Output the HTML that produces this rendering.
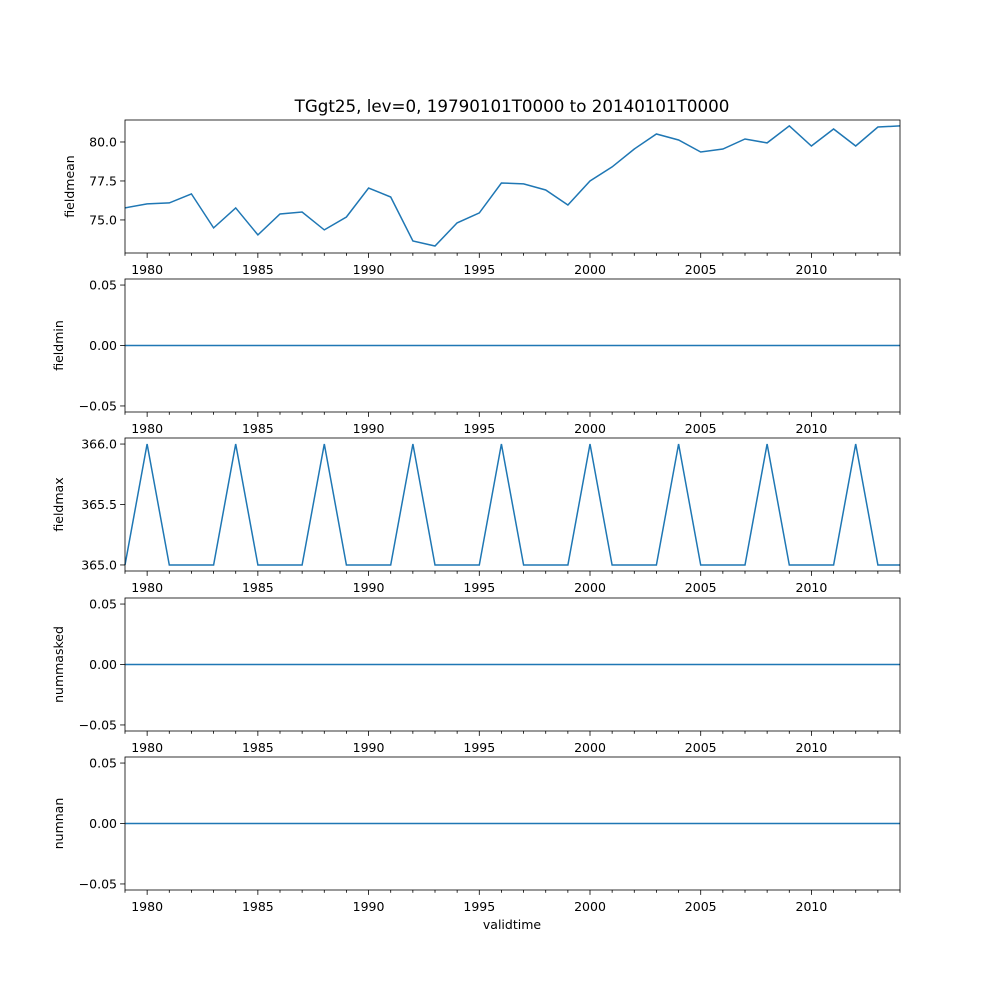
<!DOCTYPE html>
<html><head><meta charset="utf-8"><style>body{margin:0;background:#fff}svg{display:block;font-family:"DejaVu Sans","Liberation Sans",sans-serif}</style></head>
<body>
<svg id="c" width="1000" height="1000"></svg>
<script>
const years=[];for(let y=1979;y<=2014;y++)years.push(y);
const fieldmean=[75.77,76.03,76.09,76.67,74.49,75.77,74.04,75.38,75.51,74.36,75.19,77.05,76.47,73.65,73.33,74.81,75.45,77.37,77.31,76.92,75.96,77.5,78.4,79.55,80.51,80.13,79.36,79.55,80.19,79.94,81.03,79.74,80.83,79.74,80.96,81.03];
const fieldmin=years.map(()=>0);
const fieldmax=[365,366,365,365,365,366,365,365,365,366,365,365,365,366,365,365,365,366,365,365,365,366,365,365,365,366,365,365,365,366,365,365,365,366,365,365];
const nummasked=years.map(()=>0);
const numnan=years.map(()=>0);
const xTicks=[1980,1985,1990,1995,2000,2005,2010];
const panels=[
 {name:"fieldmean",vals:fieldmean,top:120,ymin:72.88,ymax:81.41,ticks:[75.0,77.5,80.0],lab:"fieldmean"},
 {name:"fieldmin",vals:fieldmin,top:279,ymin:-0.055,ymax:0.055,ticks:[-0.05,0,0.05],lab:"fieldmin"},
 {name:"fieldmax",vals:fieldmax,top:438,ymin:364.95,ymax:366.05,ticks:[365,365.5,366],lab:"fieldmax"},
 {name:"nummasked",vals:nummasked,top:598,ymin:-0.055,ymax:0.055,ticks:[-0.05,0,0.05],lab:"nummasked"},
 {name:"numnan",vals:numnan,top:757,ymin:-0.055,ymax:0.055,ticks:[-0.05,0,0.05],lab:"numnan"}];
const L=125,R=900,H=133,FS=12.5;
const svg=document.getElementById('c');const NS="http://www.w3.org/2000/svg";
function mk(t,a,p){const e=document.createElementNS(NS,t);for(const k in a)e.setAttribute(k,a[k]);(p||svg).appendChild(e);return e;}
const sx=y=>L+(y-1979)/(2014-1979)*(R-L);
const title=mk('text',{x:512,y:112,'text-anchor':'middle','font-size':16.7});title.textContent="TGgt25, lev=0, 19790101T0000 to 20140101T0000";


panels.forEach(p=>{
 const g=mk('g',{});
 
 
 const sy=v=>p.top+H-(v-p.ymin)/(p.ymax-p.ymin)*H;
 const pts=years.map((y,i)=>sx(y).toFixed(1)+','+sy(p.vals[i]).toFixed(1)).join(' ');
 const ln=mk('polyline',{points:pts,fill:'none',stroke:'#1f77b4','stroke-width':1.5},g);
 
 
 const fr=mk('rect',{x:L,y:p.top,width:R-L,height:H,fill:'none',stroke:'#000','stroke-width':0.8},g);
 
 
 years.forEach(y=>{const maj=xTicks.includes(y);mk('line',{x1:sx(y),x2:sx(y),y1:p.top+H,y2:p.top+H+(maj?4.9:2.8),stroke:'#000','stroke-width':0.8},g);});
 xTicks.forEach(y=>{const t=mk('text',{x:sx(y),y:p.top+H+21,'text-anchor':'middle','font-size':FS},g);t.textContent=y;
  
  });
 p.ticks.forEach(v=>{const yy=sy(v);mk('line',{x1:L-4.9,x2:L,y1:yy,y2:yy,stroke:'#000','stroke-width':0.8},g);
  const t=mk('text',{x:L-8,y:yy+4.5,'text-anchor':'end','font-size':FS},g);t.textContent=(Math.abs(v)<1e-9?0:v).toFixed(p.name==="fieldmean"||p.name==="fieldmax"?1:2).replace('-','\u2212');
  
  });
 const yl=mk('text',{x:0,y:0,'text-anchor':'middle','font-size':FS,transform:`translate(${p.name==="fieldmean"?74:63},${p.top+H/2}) rotate(-90)`},g);yl.textContent=p.lab;
 
 
});
const xl=mk('text',{x:512,y:929,'text-anchor':'middle','font-size':FS});xl.textContent="validtime";


</script>
</body></html>
